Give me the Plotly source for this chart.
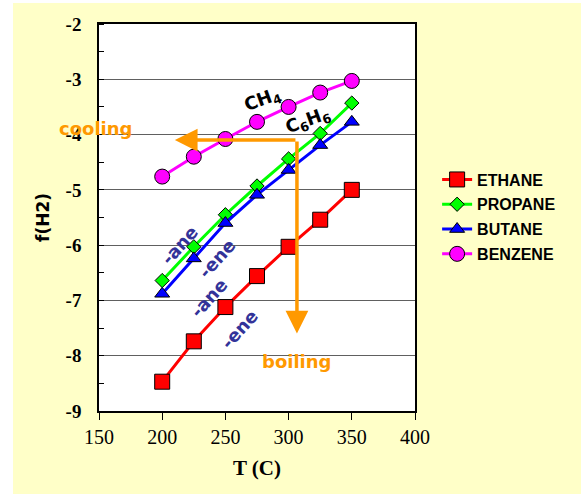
import plotly.graph_objects as go

T = [200, 225, 250, 275, 300, 325, 350]
ethane = [-8.47, -7.74, -7.12, -6.56, -6.03, -5.54, -5.00]
propane = [-6.64, -6.03, -5.45, -4.93, -4.44, -3.98, -3.43]
butane = [-6.88, -6.24, -5.60, -5.09, -4.64, -4.19, -3.77]
benzene = [-4.76, -4.40, -4.08, -3.77, -3.50, -3.24, -3.03]
y_ticks = [-9, -8, -7, -6, -5, -4, -3, -2]
y_labels = ["-9", "-8", "-7", "-6", "-5", "-4", "-3", "-2"]

series = [
    ("ETHANE", ethane, "#FF0000", "square", 15),
    ("PROPANE", propane, "#00FF00", "diamond", 11),
    ("BUTANE", butane, "#0000FF", "triangle-up", 13),
    ("BENZENE", benzene, "#FF00FF", "circle", 15),
]

fig = go.Figure()
for i, (name, vals, col, sym, sz) in enumerate(series):
    fig.add_trace(go.Scatter(
        x=T, y=vals, name=name, mode="lines+markers",
        line=dict(color=col, width=3),
        marker=dict(symbol=sym, size=sz, color=col, line=dict(color="black", width=1)),
        legendgroup=name,
    ))

ORANGE = "#FF9900"
LABEL = "#333399"
ann = []
ann.append(dict(x=210, y=-4.1, ax=306.6, ay=-4.1, xref="x", yref="y", axref="x", ayref="y",
                text="", showarrow=True, arrowhead=2, arrowsize=1.3, arrowwidth=3.5, arrowcolor=ORANGE))
ann.append(dict(x=306.6, y=-7.6, ax=306.6, ay=-4.1, xref="x", yref="y", axref="x", ayref="y",
                text="", showarrow=True, arrowhead=2, arrowsize=1.3, arrowwidth=3.5, arrowcolor=ORANGE))

def txt(x, y, t, color, size, angle=0, xref="x", yref="y"):
    return dict(x=x, y=y, xref=xref, yref=yref, text=t, showarrow=False, textangle=angle,
                xanchor="center", yanchor="middle",
                font=dict(family="DejaVu Sans", size=size, color=color, weight="bold"))

ann.append(txt(-0.0095, 0.731, "cooling", ORANGE, 18, xref="paper", yref="paper"))
ann.append(txt(306.6, -8.11, "boiling", ORANGE, 18))
ann.append(txt(279.7, -3.37, "CH<sub>4</sub>", "black", 18, -20))
ann.append(txt(315.3, -3.75, "C<sub>6</sub>H<sub>6</sub>", "black", 18, -20))
ann.append(txt(213.3, -6.0, "-ane", LABEL, 18, -48))
ann.append(txt(243.4, -6.25, "-ene", LABEL, 18, -48))
ann.append(txt(237.0, -6.94, "-ane", LABEL, 18, -48))
ann.append(txt(260.8, -7.52, "-ene", LABEL, 18, -48))

shapes = [
    dict(type="rect", xref="paper", yref="paper", x0=-0.4, x1=(13 - 99) / 316, y0=-0.3, y1=1.2,
         fillcolor="white", line=dict(width=0), layer="below"),
    dict(type="rect", xref="paper", yref="paper", x0=-0.4, x1=1.6, y0=(411 - 3) / 387, y1=1.2,
         fillcolor="white", line=dict(width=0), layer="below"),
]

fig.update_layout(
    width=581, height=494,
    margin=dict(l=99, r=166, t=24, b=83),
    paper_bgcolor="#FFFFC8",
    plot_bgcolor="white",
    showlegend=True,
    legend=dict(x=1.07, y=0.642, xanchor="left", yanchor="top",
                bgcolor="rgba(0,0,0,0)", tracegroupgap=1, itemwidth=30,
                font=dict(family="Liberation Sans", size=16, color="black", weight="bold")),
    annotations=ann,
    shapes=shapes,
    xaxis=dict(range=[150, 400], dtick=50, tick0=150, showgrid=False, automargin=False,
               showline=True, linecolor="black", linewidth=1.5, mirror=True,
               ticks="outside", ticklen=7, tickcolor="black",
               tickfont=dict(family="Liberation Serif", size=20, color="black"),
               title=dict(text="T (C)", standoff=14,
                          font=dict(family="Liberation Serif", size=21, color="black", weight="bold")),
               zeroline=False),
    yaxis=dict(range=[-9, -2], tickvals=y_ticks, ticktext=y_labels, showgrid=True, automargin=False,
               gridcolor="#606060", gridwidth=1,
               showline=True, linecolor="black", linewidth=1.5, mirror=True,
               ticks="", ticklabelstandoff=12,
               minor=dict(dtick=0.5, ticks="inside", ticklen=5, tickcolor="black", showgrid=False),
               tickfont=dict(family="Liberation Serif", size=19, color="black", weight="bold"),
               title=dict(text="f(H2)", standoff=12,
                          font=dict(family="DejaVu Sans", size=17, color="black", weight="bold")),
               zeroline=False),
)

fig.write_html("out.html", config={"displayModeBar": False},
               post_script="document.body.style.margin='0';")
